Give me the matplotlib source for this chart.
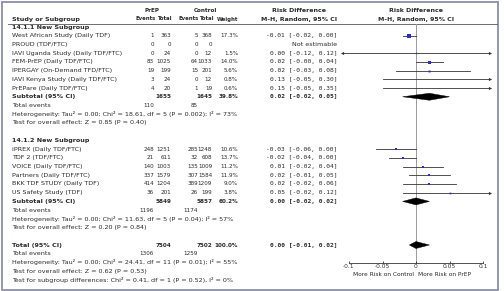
import os
import matplotlib
matplotlib.use('Agg')
import matplotlib.pyplot as plt
from matplotlib import font_manager as fm
from matplotlib.patches import Polygon, Rectangle

plt.rcParams['font.family'] = ['DejaVu Sans']
plt.rcParams['axes.unicode_minus'] = False

# ---------------- data ----------------
g1_title = "14.1.1 New Subgroup"
g1_studies = ["West African Study (Daily TDF)", "PROUD (TDF/FTC)",
              "IAVI Uganda Study (Daily TDF/FTC)", "FEM-PrEP (Daily TDF/FTC)",
              "IPERGAY (On-Demand TFD/FTC)", "IAVI Kenya Study (Daily TDF/FTC)",
              "PrEPare (Daily TDF/FTC)"]
g1_prep_events = [1, 0, 0, 83, 19, 3, 4]
g1_prep_total = [363, 0, 24, 1025, 199, 24, 20]
g1_ctrl_events = [5, 0, 0, 64, 15, 0, 1]
g1_ctrl_total = [368, 0, 12, 1033, 201, 12, 19]
g1_weight = [17.3, None, 1.5, 14.0, 5.6, 0.8, 0.6]
g1_rd = [-0.01, None, 0.00, 0.02, 0.02, 0.13, 0.15]
g1_lo = [-0.02, None, -0.12, -0.0, -0.03, -0.05, -0.05]
g1_hi = [0.00, None, 0.12, 0.04, 0.08, 0.30, 0.35]
g1_sub = dict(ev=(110, 85), tot=(1655, 1645), w=39.8, rd=0.02, lo=-0.02, hi=0.05)
g1_het = "Heterogeneity: Tau\u00b2 = 0.00; Chi\u00b2 = 18.61, df = 5 (P = 0.002); I\u00b2 = 73%"
g1_test = "Test for overall effect: Z = 0.85 (P = 0.40)"

g2_title = "14.1.2 New Subgroup"
g2_studies = ["iPREX (Daily TDF/FTC)", "TDF 2 (TDF/FTC)", "VOICE (Daily TDF/FTC)",
              "Partners (Daily TDF/FTC)", "BKK TDF STUDY (Daily TDF)",
              "US Safety Study (TDF)"]
g2_prep_events = [248, 21, 140, 337, 414, 36]
g2_prep_total = [1251, 611, 1003, 1579, 1204, 201]
g2_ctrl_events = [285, 32, 135, 307, 389, 26]
g2_ctrl_total = [1248, 608, 1009, 1584, 1209, 199]
g2_weight = [10.6, 13.7, 11.2, 11.9, 9.0, 3.8]
g2_rd = [-0.03, -0.02, 0.01, 0.02, 0.02, 0.05]
g2_lo = [-0.06, -0.04, -0.02, -0.01, -0.02, -0.02]
g2_hi = [0.00, 0.00, 0.04, 0.05, 0.06, 0.12]
g2_sub = dict(ev=(1196, 1174), tot=(5849, 5857), w=60.2, rd=0.00, lo=-0.02, hi=0.02)
g2_het = "Heterogeneity: Tau\u00b2 = 0.00; Chi\u00b2 = 11.63, df = 5 (P = 0.04); I\u00b2 = 57%"
g2_test = "Test for overall effect: Z = 0.20 (P = 0.84)"

tot_sub = dict(ev=(1306, 1259), tot=(7504, 7502), w=100.0, rd=0.00, lo=-0.01, hi=0.02)
tot_het = "Heterogeneity: Tau\u00b2 = 0.00; Chi\u00b2 = 24.41, df = 11 (P = 0.01); I\u00b2 = 55%"
tot_test = "Test for overall effect: Z = 0.62 (P = 0.53)"
tot_subgroup = "Test for subgroup differences: Chi\u00b2 = 0.41, df = 1 (P = 0.52), I\u00b2 = 0%"

axis_ticks = [-0.1, -0.05, 0, 0.05, 0.1]
axis_ticklabels = ["-0.1", "-0.05", "0", "0.05", "0.1"]
favours_left = "More Risk on Control"
favours_right = "More Risk on PrEP"

# ---------------- fonts ----------------
def _w(f):
    w = f.weight
    if isinstance(w, str):
        return {'bold': 700, 'normal': 400, 'regular': 400, 'medium': 500,
                'light': 300, 'semibold': 600, 'demibold': 600}.get(w, 400)
    return int(w)

def find_narrow(bold):
    best = None
    for f in fm.fontManager.ttflist:
        key = (f.name + ' ' + str(f.stretch) + ' ' + os.path.basename(f.fname)).lower()
        if ('narrow' not in key and 'condensed' not in key) or f.style != 'normal':
            continue
        w = _w(f)
        ok = (w >= 600) if bold else (350 <= w <= 500)
        if not ok:
            continue
        pref = 0 if 'liberation' in key else (1 if 'dejavu' in key else 2)
        if best is None or pref < best[0]:
            best = (pref, f.fname)
    return best[1] if best else None

NR, NB = find_narrow(False), find_narrow(True)
FS = 4.6
if NR and NB:
    NUM_R = fm.FontProperties(fname=NR, size=4.5)
    NUM_B = fm.FontProperties(fname=NB, size=4.5)
    NUM_H = fm.FontProperties(fname=NB, size=4.2)
else:
    NUM_R = fm.FontProperties(family='Liberation Sans', size=3.9)
    NUM_B = fm.FontProperties(family='Liberation Sans', weight='bold', size=3.9)
    NUM_H = fm.FontProperties(family='Liberation Sans', weight='bold', size=3.7)
LAB_R = fm.FontProperties(family='DejaVu Sans', size=FS)
LAB_B = fm.FontProperties(family='DejaVu Sans', weight='bold', size=FS)
MONO_R = fm.FontProperties(family='DejaVu Sans Mono', size=4.5)
MONO_B = fm.FontProperties(family='DejaVu Sans Mono', weight='bold', size=4.5)
HDR_B = fm.FontProperties(family='DejaVu Sans', weight='bold', size=4.5)
SMALL = fm.FontProperties(family='DejaVu Sans', size=4.2)

# ---------------- layout ----------------
W, H, DPI = 504, 291, 100
fig = plt.figure(figsize=(W / DPI, H / DPI), dpi=DPI)
fig.patch.set_facecolor('white')

tx = fig.add_axes([0, 0, 1, 1])
tx.set_xlim(0, W)
tx.set_ylim(H, 0)
tx.axis('off')

Y0, DY = 27.0, 8.72
def ry(r):
    return Y0 + DY * r

TC = '#2a2a2a'
X_NAME = 12
X_PE, X_PT, X_CE, X_CT, X_W, X_RD = 154, 171, 198, 212, 238, 337

def t(x, y, s, fp, ha='left', color=TC):
    tx.text(x, y, s, ha=ha, va='center', fontproperties=fp, color=color)

def fmt_rd(rd, lo, hi):
    return f"{rd:.2f} [{lo:.2f}, {hi:.2f}]"

# headers
t(152, 10, "PrEP", NUM_B, ha='center')
t(205, 10, "Control", NUM_B, ha='center')
t(299, 10, "Risk Difference", HDR_B, ha='center')
t(416, 10, "Risk Difference", HDR_B, ha='center')
t(X_NAME, 19, "Study or Subgroup", LAB_B)
t(156, 19, "Events", NUM_H, ha='right')
t(172, 19, "Total", NUM_H, ha='right')
t(199, 19, "Events", NUM_H, ha='right')
t(213.5, 19, "Total", NUM_H, ha='right')
t(X_W, 19, "Weight", NUM_H, ha='right')
t(299, 19, "M-H, Random, 95% CI", HDR_B, ha='center')
t(416, 19, "M-H, Random, 95% CI", HDR_B, ha='center')
tx.plot([8, 497], [23.5, 23.5], color='#555555', lw=0.6)

# border
tx.add_patch(Rectangle((2, 1.5), 495.5, 288, fill=False, ec='#8a90a8', lw=1.3))

# forest axes
fx = fig.add_axes([0, 0, 1, 1])
fx.patch.set_alpha(0)
PX = 670.0
fx.set_xlim(-416 / PX, (W - 416) / PX)
fx.set_ylim((H - Y0) / DY, -Y0 / DY)
for s in ['top', 'left', 'right']:
    fx.spines[s].set_visible(False)
AX_ROW = (263 - Y0) / DY
fx.spines['bottom'].set_position(('data', AX_ROW))
fx.spines['bottom'].set_bounds(-0.1, 0.1)
fx.spines['bottom'].set_linewidth(0.6)
fx.spines['bottom'].set_color('#333333')
fx.set_yticks([])
fx.set_xticks(axis_ticks)
fx.set_xticklabels(axis_ticklabels)
fx.tick_params(axis='x', direction='in', length=1.6, width=0.6, pad=1.0,
               labelsize=4.3, colors='#333333')

CLIP = 0.11
fx.plot([0, 0], [(23.5 - Y0) / DY, AX_ROW], color='#9a9a9a', lw=0.7, zorder=1)

def study(row, rd, lo, hi, w):
    if rd is None:
        return
    a, b = max(lo, -CLIP), min(hi, CLIP)
    fx.plot([a, b], [row, row], color='#333333', lw=0.6, zorder=2)
    if lo < -CLIP:
        fx.plot([a], [row], marker='<', ms=2.3, color='#333333', mew=0, zorder=3)
    if hi > CLIP:
        fx.plot([b], [row], marker='>', ms=2.3, color='#333333', mew=0, zorder=3)
    if -CLIP <= rd <= CLIP:
        fx.plot([rd], [row], marker='s', ms=0.9 + 0.09 * w, color='#2a2ad0',
                mew=0, zorder=4)

def diamond(row, rd, lo, hi):
    h = 0.4
    fx.add_patch(Polygon([(lo, row), (rd, row - h), (hi, row), (rd, row + h)],
                         closed=True, fc='black', ec='black', lw=0.3, zorder=4))

def summary(r, label, sub):
    y = ry(r)
    t(X_NAME, y, label, LAB_B)
    t(X_PT, y, str(sub['tot'][0]), NUM_B, ha='right')
    t(X_CT, y, str(sub['tot'][1]), NUM_B, ha='right')
    t(X_W, y, f"{sub['w']:.1f}%", NUM_B, ha='right')
    t(X_RD, y, fmt_rd(sub['rd'], sub['lo'], sub['hi']), MONO_B, ha='right')
    diamond(r, sub['rd'], sub['lo'], sub['hi'])

def events_row(r, ev):
    t(X_NAME, ry(r), "Total events", LAB_R)
    t(X_PE, ry(r), str(ev[0]), NUM_R, ha='right')
    t(X_CE, ry(r), str(ev[1]), NUM_R, ha='right')

def group(r0, title, studies, pe, pt, ce, ct, w, rd, lo, hi, sub, het, test):
    t(X_NAME, ry(r0), title, LAB_B)
    for i, name in enumerate(studies):
        r = r0 + 1 + i
        y = ry(r)
        t(X_NAME, y, name, LAB_R)
        t(X_PE, y, str(pe[i]), NUM_R, ha='right')
        t(X_PT, y, str(pt[i]), NUM_R, ha='right')
        t(X_CE, y, str(ce[i]), NUM_R, ha='right')
        t(X_CT, y, str(ct[i]), NUM_R, ha='right')
        if w[i] is not None:
            t(X_W, y, f"{w[i]:.1f}%", NUM_R, ha='right')
            t(X_RD, y, fmt_rd(rd[i], lo[i], hi[i]), MONO_R, ha='right')
        else:
            t(X_RD, y, "Not estimable", LAB_R, ha='right')
        study(r, rd[i], lo[i], hi[i], w[i])
    r = r0 + 1 + len(studies)
    summary(r, "Subtotal (95% CI)", sub)
    events_row(r + 1, sub['ev'])
    t(X_NAME, ry(r + 2), het, LAB_R)
    t(X_NAME, ry(r + 3), test, LAB_R)

group(0, g1_title, g1_studies, g1_prep_events, g1_prep_total, g1_ctrl_events,
      g1_ctrl_total, g1_weight, g1_rd, g1_lo, g1_hi, g1_sub, g1_het, g1_test)
group(13, g2_title, g2_studies, g2_prep_events, g2_prep_total, g2_ctrl_events,
      g2_ctrl_total, g2_weight, g2_rd, g2_lo, g2_hi, g2_sub, g2_het, g2_test)

summary(25, "Total (95% CI)", tot_sub)
events_row(26, tot_sub['ev'])
t(X_NAME, ry(27), tot_het, LAB_R)
t(X_NAME, ry(28), tot_test, LAB_R)
t(X_NAME, ry(29), tot_subgroup, LAB_R)

t(414, 274, favours_left, SMALL, ha='right')
t(418, 274, favours_right, SMALL, ha='left')

fig.savefig('out.png', dpi=DPI)
